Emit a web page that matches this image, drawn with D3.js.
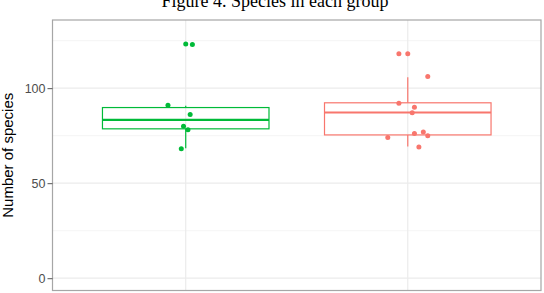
<!DOCTYPE html>
<html>
<head>
<meta charset="utf-8">
<script src="https://cdn.jsdelivr.net/npm/d3@7"></script>
<style>
  html, body { margin: 0; padding: 0; background: #fff; }
  svg { display: block; }
</style>
</head>
<body>
<div id="chart"></div>
<script>
// groups, in x order
const groups = ['A', 'B'];
const groupColors = ['#00BA38', '#F8766D'];

// box statistics: [whiskerLow, q1, median, q3, whiskerHigh]
const boxStats = [
  [68.4, 78.6, 83.3, 89.8, 90.8],
  [69.3, 75.4, 87.2, 92.3, 105.8]
];

// jittered points: horizontal offset (in category units) and value
const jitterA = [
  [0.00, 123.2], [0.03, 123.0], [-0.08, 91.0], [0.02, 86.1],
  [-0.01, 80.0], [0.01, 78.1], [-0.02, 68.1]
];
const jitterB = [
  [-0.04, 118.1], [0.00, 118.1], [0.09, 106.1], [-0.04, 92.1],
  [0.03, 90.0], [0.02, 87.0], [-0.09, 74.0], [0.03, 76.1],
  [0.07, 77.0], [0.09, 74.9], [0.05, 69.1]
];
const jitterPoints = [jitterA, jitterB];

const yTicks = [0, 50, 100];
const yMinorTicks = [25, 75, 125];
const yLimits = [0, 129.4];

const title = 'Figure 4. Species in each group';
const yLabel = 'Number of species';

const W = 544, H = 293;
const panel = { left: 52.5, right: 541, top: 20, bottom: 290.5 };

const svg = d3.select('#chart').append('svg')
  .attr('width', W)
  .attr('height', H);

// ggplot-style 5% expansion on the continuous axis
const span = yLimits[1] - yLimits[0];
const yScale = d3.scaleLinear()
  .domain([yLimits[0] - span * 0.05, yLimits[1] + span * 0.05])
  .range([panel.bottom, panel.top]);

// discrete axis with 0.6 unit padding each side
const xScale = d3.scaleLinear()
  .domain([0.4, groups.length + 0.6])
  .range([panel.left, panel.right]);
const unit = xScale(1) - xScale(0);

svg.append('rect')
  .attr('x', panel.left).attr('y', panel.top)
  .attr('width', panel.right - panel.left)
  .attr('height', panel.bottom - panel.top)
  .attr('fill', '#fff');

// grid
const grid = svg.append('g');
grid.selectAll('line.minor').data(yMinorTicks).enter().append('line')
  .attr('x1', panel.left).attr('x2', panel.right)
  .attr('y1', d => yScale(d)).attr('y2', d => yScale(d))
  .attr('stroke', '#f3f3f3').attr('stroke-width', 0.8);
grid.selectAll('line.major').data(yTicks).enter().append('line')
  .attr('x1', panel.left).attr('x2', panel.right)
  .attr('y1', d => yScale(d)).attr('y2', d => yScale(d))
  .attr('stroke', '#ebebeb').attr('stroke-width', 1.2);
grid.selectAll('line.vmajor').data(groups).enter().append('line')
  .attr('x1', (d, i) => xScale(i + 1)).attr('x2', (d, i) => xScale(i + 1))
  .attr('y1', panel.top).attr('y2', panel.bottom)
  .attr('stroke', '#ebebeb').attr('stroke-width', 1.2);

// boxplots
const boxW = 0.75 * unit;
groups.forEach((g, i) => {
  const [lo, q1, med, q3, hi] = boxStats[i];
  const cx = xScale(i + 1);
  const color = groupColors[i];
  const bg = svg.append('g');
  bg.append('line')
    .attr('x1', cx).attr('x2', cx)
    .attr('y1', yScale(q3)).attr('y2', yScale(hi))
    .attr('stroke', color).attr('stroke-width', 1.2);
  bg.append('line')
    .attr('x1', cx).attr('x2', cx)
    .attr('y1', yScale(q1)).attr('y2', yScale(lo))
    .attr('stroke', color).attr('stroke-width', 1.2);
  bg.append('rect')
    .attr('x', cx - boxW / 2).attr('y', yScale(q3))
    .attr('width', boxW).attr('height', yScale(q1) - yScale(q3))
    .attr('fill', '#fff').attr('fill-opacity', 0)
    .attr('stroke', color).attr('stroke-width', 1.2);
  bg.append('line')
    .attr('x1', cx - boxW / 2).attr('x2', cx + boxW / 2)
    .attr('y1', yScale(med)).attr('y2', yScale(med))
    .attr('stroke', color).attr('stroke-width', 2.2);

  bg.selectAll('circle').data(jitterPoints[i]).enter().append('circle')
    .attr('cx', d => xScale(i + 1 + d[0]))
    .attr('cy', d => yScale(d[1]))
    .attr('r', 2.5)
    .attr('fill', color);
});

// panel border
svg.append('rect')
  .attr('x', panel.left).attr('y', panel.top)
  .attr('width', panel.right - panel.left)
  .attr('height', panel.bottom - panel.top)
  .attr('fill', 'none')
  .attr('stroke', '#a6a6a6').attr('stroke-width', 1.2);

// y axis
const yAxis = svg.append('g')
  .attr('transform', `translate(${panel.left},0)`)
  .call(d3.axisLeft(yScale).tickValues(yTicks).tickSize(5).tickPadding(2));
yAxis.select('.domain').remove();
yAxis.selectAll('line').attr('stroke', '#555').attr('stroke-width', 1);
yAxis.selectAll('text')
  .attr('fill', '#4d4d4d')
  .style('font-family', '"Liberation Sans", Arial, sans-serif')
  .style('font-size', '12.5px');

svg.append('text')
  .attr('transform', `translate(13,${(panel.top + panel.bottom) / 2}) rotate(-90)`)
  .attr('text-anchor', 'middle')
  .attr('fill', '#000')
  .style('font-family', '"Liberation Sans", Arial, sans-serif')
  .style('font-size', '15px')
  .text(yLabel);

svg.append('text')
  .attr('x', 275)
  .attr('y', 7)
  .attr('text-anchor', 'middle')
  .attr('fill', '#000')
  .style('font-family', '"Liberation Serif", "Times New Roman", serif')
  .style('font-size', '18px')
  .text(title);
</script>
</body>
</html>
